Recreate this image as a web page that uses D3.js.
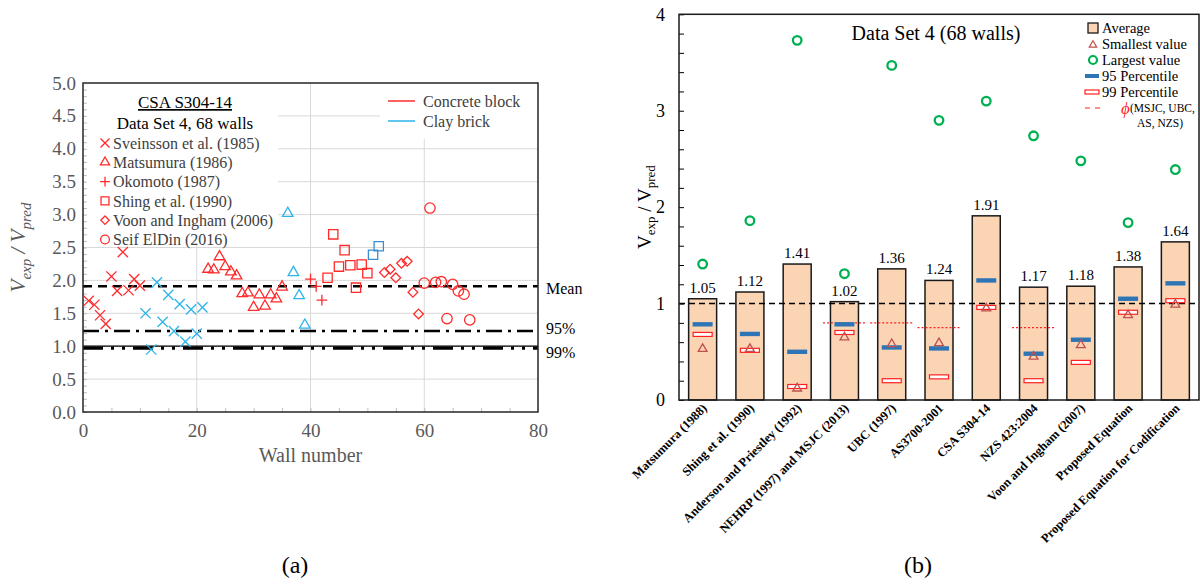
<!DOCTYPE html>
<html>
<head>
<meta charset="utf-8">
<script src="https://cdn.jsdelivr.net/npm/d3@7"></script>
<style>
  body { margin: 0; background: #fff; }
  svg text { font-family: "Liberation Serif", "Times New Roman", serif; }
</style>
</head>
<body>
<div id="chart"></div>
<script>
// ---- panel (a): wall-by-wall ratios, [wall number, Vexp/Vpred] ----
const sveinssonBlock = [[1,1.69],[2,1.63],[3,1.47],[4,1.34],[5,2.06],[6,1.84],[7,2.43],[8,1.85],[9,2.02],[10,1.92]];
const sveinssonClay  = [[11,1.50],[12,0.95],[13,1.97],[14,1.37],[15,1.78],[16,1.23],[17,1.64],[18,1.07],[19,1.56],[20,1.19],[21,1.59]];
const matsumuraBlock = [[22,2.17],[23,2.16],[24,2.36],[25,2.21],[26,2.13],[27,2.07],[28,1.80],[29,1.81],[30,1.59],[31,1.78],[32,1.61],[33,1.78],[34,1.72],[35,1.90]];
const matsumuraClay  = [[36,3.02],[37,2.12],[38,1.77],[39,1.32]];
const okamotoBlock   = [[40,2.02],[41,1.91],[42,1.70]];
const shingBlock     = [[43,2.04],[44,2.70],[45,2.21],[46,2.46],[47,2.23],[48,1.89],[49,2.24],[50,2.11]];
const shingClay      = [[51,2.39],[52,2.52]];
const voonBlock      = [[53,2.12],[54,2.17],[55,2.04],[56,2.26],[57,2.29],[58,1.82],[59,1.49]];
const seifBlock      = [[60,1.96],[61,3.10],[62,1.97],[63,1.98],[64,1.42],[65,1.94],[66,1.84],[67,1.79],[68,1.40]];
const refLines = [{ name: "Mean", value: 1.91 }, { name: "95%", value: 1.23 }, { name: "99%", value: 0.97 }];
const yTicksA = [0, 0.5, 1, 1.5, 2, 2.5, 3, 3.5, 4, 4.5, 5];
const xTicksA = [0, 20, 40, 60, 80];
const legendSources = ["Sveinsson et al. (1985)", "Matsumura (1986)", "Okomoto (1987)", "Shing et al. (1990)", "Voon and Ingham (2006)", "Seif ElDin (2016)"];

// ---- panel (b): summary per method ----
const methods = ["Matsumura (1988)", "Shing et al. (1990)", "Anderson and Priestley (1992)", "NEHRP (1997) and MSJC (2013)",
  "UBC (1997)", "AS3700-2001", "CSA S304-14", "NZS 423:2004", "Voon and Ingham (2007)", "Proposed Equation",
  "Proposed Equation for Codification"];
const averages   = [1.05, 1.12, 1.41, 1.02, 1.36, 1.24, 1.91, 1.17, 1.18, 1.38, 1.64];
const smallest   = [0.54, 0.54, 0.13, 0.66, 0.59, 0.60, 0.96, 0.46, 0.58, 0.89, 1.00];
const largest    = [1.41, 1.86, 3.73, 1.31, 3.47, 2.90, 3.10, 2.74, 2.48, 1.84, 2.39];
const pct95      = [0.785, 0.685, 0.50, 0.785, 0.545, 0.535, 1.24, 0.48, 0.625, 1.05, 1.21];
const pct99      = [0.68, 0.515, 0.14, 0.70, 0.20, 0.24, 0.96, 0.20, 0.39, 0.91, 1.03];
const phiFactors = [["NEHRP (1997) and MSJC (2013)", 0.8], ["UBC (1997)", 0.8], ["AS3700-2001", 0.75], ["NZS 423:2004", 0.75]];
const yTicksB = [0, 1, 2, 3, 4];

const RED = "#ff2b2b", CLAY = "#2db4ea", CLAY_DARK = "#3b8dd0", GREY = "#595959";

const svg = d3.select("#chart").append("svg").attr("width", 1200).attr("height", 584);

// V_exp / V_pred with subscripts (dy so later parts return to the baseline)
const ratioTitle = (sel, big, small, shift) => {
  sel.append("tspan").style("font-size", big + "px").text("V");
  sel.append("tspan").attr("dy", shift).style("font-size", small + "px").text("exp");
  sel.append("tspan").attr("dy", -shift).style("font-size", big + "px").text(" / V");
  sel.append("tspan").attr("dy", shift).style("font-size", small + "px").text("pred");
};

// ================= panel (a) =================
const xA = d3.scaleLinear([0, 80], [83, 538]);
const yA = d3.scaleLinear([0, 5], [412, 83]);
const a = svg.append("g");

// grid
a.selectAll(".hg").data(yTicksA.filter(d => d > 0 && d < 5)).join("line")
  .attr("x1", xA(0)).attr("x2", xA(80)).attr("y1", d => yA(d)).attr("y2", d => yA(d))
  .attr("stroke", "#d9d9d9").attr("stroke-width", 1);
a.selectAll(".vg").data(xTicksA.filter(d => d > 0 && d < 80)).join("line")
  .attr("x1", d => xA(d)).attr("x2", d => xA(d)).attr("y1", yA(0)).attr("y2", yA(5))
  .attr("stroke", "#d9d9d9").attr("stroke-width", 1);

// legend backgrounds cover the grid
a.append("rect").attr("x", 84).attr("y", 84).attr("width", 194).attr("height", 160).attr("fill", "#fff");
a.append("rect").attr("x", 380).attr("y", 84).attr("width", 157).attr("height", 55).attr("fill", "#fff");

// minor ticks
a.append("g").attr("transform", `translate(${xA(0)},0)`)
  .call(d3.axisLeft(yA).tickValues(d3.range(0, 50).map(i => i / 10)).tickSize(-4).tickFormat(""))
  .call(g => g.select(".domain").remove())
  .call(g => g.selectAll("line").attr("stroke", "#bfbfbf"));
a.append("g").attr("transform", `translate(0,${yA(0)})`)
  .call(d3.axisBottom(xA).tickValues(d3.range(5, 80, 5)).tickSize(-4).tickFormat(""))
  .call(g => g.select(".domain").remove())
  .call(g => g.selectAll("line").attr("stroke", "#bfbfbf"));

// tick labels
a.append("g").attr("transform", `translate(${xA(0)},0)`)
  .call(d3.axisLeft(yA).tickValues(yTicksA).tickSize(0).tickPadding(7).tickFormat(d3.format(".1f")))
  .call(g => g.select(".domain").remove())
  .call(g => g.selectAll("text").attr("fill", GREY).style("font-size", "19px").style("font-family", "Liberation Serif"));
a.append("g").attr("transform", `translate(0,${yA(0)})`)
  .call(d3.axisBottom(xA).tickValues(xTicksA).tickSize(0).tickPadding(12))
  .call(g => g.select(".domain").remove())
  .call(g => g.selectAll("text").attr("fill", GREY).style("font-size", "19px").style("font-family", "Liberation Serif"));

// reference lines
a.append("line").attr("x1", xA(0)).attr("x2", xA(80)).attr("y1", yA(1)).attr("y2", yA(1))
  .attr("stroke", "#000").attr("stroke-width", 1.2);
const refStyle = {
  "Mean": { dash: "9,6", w: 2.4, off: 2 },
  "95%": { dash: "16,6,3,6", w: 2.4, off: -3 },
  "99%": { dash: "20,8,3,8,3,8", w: 3.2, off: 4 }
};
a.selectAll(".ref").data(refLines).join("line")
  .attr("x1", xA(0)).attr("x2", xA(80)).attr("y1", d => yA(d.value)).attr("y2", d => yA(d.value))
  .attr("stroke", "#000").attr("stroke-width", d => refStyle[d.name].w)
  .attr("stroke-dasharray", d => refStyle[d.name].dash);
a.selectAll(".refLab").data(refLines).join("text")
  .attr("x", xA(80) + 8).attr("y", d => yA(d.value) + refStyle[d.name].off).attr("dy", "0.35em")
  .style("font-size", "16px").attr("fill", "#000").text(d => d.name);

// frame
a.append("rect").attr("x", xA(0)).attr("y", yA(5)).attr("width", xA(80) - xA(0)).attr("height", yA(0) - yA(5))
  .attr("fill", "none").attr("stroke", "#262626").attr("stroke-width", 1.5);

// points
const groups = [
  { data: sveinssonBlock, sym: d3.symbolTimes, size: 70, color: RED },
  { data: sveinssonClay, sym: d3.symbolTimes, size: 70, color: CLAY },
  { data: matsumuraBlock, sym: d3.symbolTriangle2, size: 80, color: RED },
  { data: matsumuraClay, sym: d3.symbolTriangle2, size: 80, color: CLAY },
  { data: okamotoBlock, sym: d3.symbolPlus, size: 40, color: RED },
  { data: shingBlock, sym: d3.symbolSquare2, size: 110, color: RED },
  { data: shingClay, sym: d3.symbolSquare2, size: 110, color: CLAY_DARK },
  { data: voonBlock, sym: d3.symbolDiamond2, size: 60, color: RED },
  { data: seifBlock, sym: d3.symbolCircle, size: 85, color: RED }
];
groups.forEach(gr => {
  a.append("g").selectAll("path").data(gr.data).join("path")
    .attr("transform", d => `translate(${xA(d[0])},${yA(d[1])})`)
    .attr("d", d3.symbol(gr.sym, gr.size))
    .attr("fill", "none").attr("stroke", gr.color).attr("stroke-width", 1.3);
});

// legend (a)
a.append("text").attr("x", 185).attr("y", 108).attr("text-anchor", "middle").style("font-size", "17px")
  .attr("text-decoration", "underline").text("CSA S304-14");
a.append("text").attr("x", 185).attr("y", 129).attr("text-anchor", "middle").style("font-size", "17px")
  .text("Data Set 4, 68 walls");
const legSyms = [[d3.symbolTimes, 55], [d3.symbolTriangle2, 60], [d3.symbolPlus, 34], [d3.symbolSquare2, 80], [d3.symbolDiamond2, 45], [d3.symbolCircle, 60]];
const legA = a.append("g").selectAll("g").data(legendSources).join("g")
  .attr("transform", (d, i) => `translate(105,${143 + i * 19.3})`);
legA.append("path").attr("d", (d, i) => d3.symbol(legSyms[i][0], legSyms[i][1])())
  .attr("fill", "none").attr("stroke", RED).attr("stroke-width", 1.3);
legA.append("text").attr("x", 8).attr("dy", "0.35em").style("font-size", "16px").attr("fill", "#404040").text(d => d);

const legMat = a.append("g").selectAll("g").data([["Concrete block", RED], ["Clay brick", CLAY]]).join("g")
  .attr("transform", (d, i) => `translate(388,${101 + i * 20})`);
legMat.append("line").attr("x1", 0).attr("x2", 27).attr("stroke", d => d[1]).attr("stroke-width", 1.5);
legMat.append("text").attr("x", 35).attr("dy", "0.35em").style("font-size", "16px").attr("fill", "#404040").text(d => d[0]);

// axis titles
a.append("text").attr("x", xA(40)).attr("y", 462).attr("text-anchor", "middle").style("font-size", "20px")
  .attr("fill", GREY).text("Wall number");
const yTitleA = a.append("text").attr("transform", `translate(25,${yA(2.5)}) rotate(-90)`).attr("text-anchor", "middle")
  .style("font-style", "italic").attr("fill", GREY);
ratioTitle(yTitleA, 21, 15, 6);

svg.append("text").attr("x", 295).attr("y", 573).attr("text-anchor", "middle").style("font-size", "24px").text("(a)");

// ================= panel (b) =================
const xB = d3.scaleBand(methods, [679, 1199]).padding(0);
const yB = d3.scaleLinear([0, 4], [400, 14.3]);
const cx = m => xB(m) + xB.bandwidth() / 2;
const b = svg.append("g");
const barW = 28;

// minor ticks
b.append("g").attr("transform", "translate(679,0)")
  .call(d3.axisLeft(yB).tickValues(d3.range(0, 21).map(i => i / 5)).tickSize(-5).tickFormat(""))
  .call(g => g.select(".domain").remove())
  .call(g => g.selectAll("line").attr("stroke", "#000"));
b.append("g").attr("transform", "translate(679,0)")
  .call(d3.axisLeft(yB).tickValues(yTicksB).tickSize(0).tickPadding(14).tickFormat(d3.format("d")))
  .call(g => g.select(".domain").remove())
  .call(g => g.selectAll("text").attr("fill", "#000").style("font-size", "18px").style("font-family", "Liberation Serif"));

// bars
b.selectAll(".bar").data(methods).join("rect")
  .attr("x", m => cx(m) - barW / 2).attr("width", barW)
  .attr("y", (m, i) => yB(averages[i])).attr("height", (m, i) => yB(0) - yB(averages[i]))
  .attr("fill", "#fbd4b4").attr("stroke", "#1a1a1a").attr("stroke-width", 1.5);
b.selectAll(".val").data(methods).join("text")
  .attr("x", m => cx(m)).attr("y", (m, i) => yB(averages[i]) - 6).attr("text-anchor", "middle")
  .style("font-size", "15px").text((m, i) => averages[i].toFixed(2));

// reference line at 1 and phi factors
b.append("line").attr("x1", 679).attr("x2", 1199).attr("y1", yB(1)).attr("y2", yB(1))
  .attr("stroke", "#000").attr("stroke-width", 1.5).attr("stroke-dasharray", "6,4");
b.selectAll(".phi").data(phiFactors).join("line")
  .attr("x1", d => cx(d[0]) - 21.5).attr("x2", d => cx(d[0]) + 21.5)
  .attr("y1", d => yB(d[1])).attr("y2", d => yB(d[1]))
  .attr("stroke", "#ff2020").attr("stroke-width", 1.2).attr("stroke-dasharray", "2,2");

// percentiles
b.selectAll(".p95").data(methods).join("rect")
  .attr("x", m => cx(m) - 10).attr("width", 20).attr("y", (m, i) => yB(pct95[i]) - 2.2).attr("height", 4.4)
  .attr("fill", "#2e75b6");
b.selectAll(".p99").data(methods).join("rect")
  .attr("x", m => cx(m) - 9.5).attr("width", 19).attr("y", (m, i) => yB(pct99[i]) - 2).attr("height", 4)
  .attr("fill", "#fff").attr("stroke", "#ff2020").attr("stroke-width", 1.2);
b.selectAll(".mn").data(methods).join("path")
  .attr("transform", (m, i) => `translate(${cx(m)},${yB(smallest[i]) + 1})`)
  .attr("d", d3.symbol(d3.symbolTriangle2, 55))
  .attr("fill", "none").attr("stroke", "#c0504d").attr("stroke-width", 1.3);
b.selectAll(".mx").data(methods).join("circle")
  .attr("cx", m => cx(m)).attr("cy", (m, i) => yB(largest[i])).attr("r", 4.3)
  .attr("fill", "none").attr("stroke", "#00b050").attr("stroke-width", 2.3);

// frame
b.append("rect").attr("x", 679).attr("y", yB(4)).attr("width", 520).attr("height", yB(0) - yB(4))
  .attr("fill", "none").attr("stroke", "#1a1a1a").attr("stroke-width", 1.5);

// category labels
b.selectAll(".cat").data(methods).join("text")
  .attr("transform", m => `translate(${cx(m) + 5},${409}) rotate(-45)`)
  .attr("text-anchor", "end").style("font-size", "12.5px").style("font-weight", "bold").text(m => m);

// title
b.append("text").attr("x", 936).attr("y", 40).attr("text-anchor", "middle").style("font-size", "20px")
  .text("Data Set 4 (68 walls)");

// y title
const yTitleB = b.append("text").attr("transform", `translate(651,${yB(2)}) rotate(-90)`).attr("text-anchor", "middle");
ratioTitle(yTitleB, 19, 13, 4);

// legend (b)
const legB = b.append("g").attr("transform", "translate(1093,0)");
const rowY = [28, 44, 60, 76, 92, 108];
legB.append("rect").attr("x", -5).attr("y", rowY[0] - 5).attr("width", 10).attr("height", 10)
  .attr("fill", "#fbd4b4").attr("stroke", "#1a1a1a").attr("stroke-width", 1.3);
legB.append("path").attr("transform", `translate(0,${rowY[1] + 1})`).attr("d", d3.symbol(d3.symbolTriangle2, 40))
  .attr("fill", "none").attr("stroke", "#c0504d").attr("stroke-width", 1.2);
legB.append("circle").attr("cy", rowY[2]).attr("r", 4).attr("fill", "none").attr("stroke", "#00b050").attr("stroke-width", 2.2);
legB.append("rect").attr("x", -8).attr("y", rowY[3] - 2).attr("width", 14).attr("height", 4).attr("fill", "#2e75b6");
legB.append("rect").attr("x", -8).attr("y", rowY[4] - 2).attr("width", 14).attr("height", 4)
  .attr("fill", "#fff").attr("stroke", "#ff2020").attr("stroke-width", 1.2);
legB.append("line").attr("x1", -8).attr("x2", 10).attr("y1", rowY[5]).attr("y2", rowY[5])
  .attr("stroke", "#ff2020").attr("stroke-width", 1.2).attr("stroke-dasharray", "5,5");
legB.selectAll(".lt").data(["Average", "Smallest value", "Largest value", "95 Percentile", "99 Percentile"]).join("text")
  .attr("x", 9).attr("y", (d, i) => rowY[i]).attr("dy", "0.35em").style("font-size", "14.5px").text(d => d);
legB.append("text").attr("x", 28).attr("y", rowY[5]).attr("dy", "0.35em").style("font-size", "17px")
  .style("font-style", "italic").attr("fill", "#ff2020").text("ϕ");
legB.append("text").attr("x", 37).attr("y", rowY[5]).attr("dy", "0.35em").style("font-size", "11.5px").text("(MSJC, UBC,");
legB.append("text").attr("x", 44).attr("y", 123).attr("dy", "0.35em").style("font-size", "11.5px").text("AS, NZS)");

svg.append("text").attr("x", 918).attr("y", 573).attr("text-anchor", "middle").style("font-size", "24px").text("(b)");
</script>
</body>
</html>
